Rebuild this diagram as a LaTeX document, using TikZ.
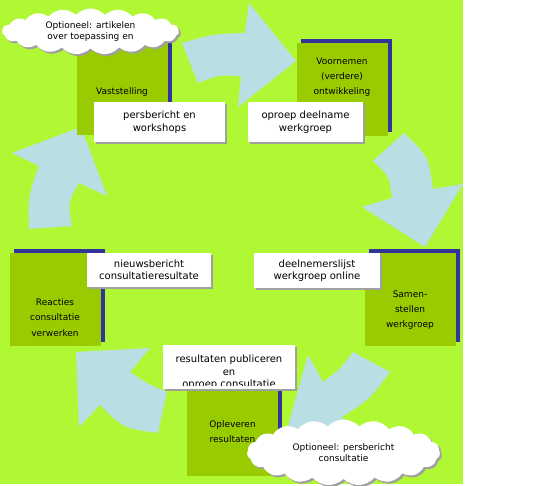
\documentclass[tikz,border=0pt]{standalone}
\usepackage{fontspec}
\setmainfont{DejaVu Sans}
\usepackage{tikz}
\usetikzlibrary{shapes.symbols,shadows,calc,positioning}
\definecolor{bggreen}{RGB}{176,248,52}
\definecolor{stagegreen}{RGB}{153,204,0}
\definecolor{stageblue}{RGB}{51,51,153}
\definecolor{flowblue}{RGB}{185,223,228}
\definecolor{shadowgray}{RGB}{160,160,160}
\tikzset{
	cycle diagram/.style={x=1pt, y=-1pt},
	stage/.style={
		fill=stagegreen, inner sep=0pt,
		minimum width=91pt, minimum height=93pt,
		general shadow={fill=stageblue, shadow xshift=4pt, shadow yshift=4pt}},
	stage text/.style={font=\fontsize{9}{15.2}\selectfont, align=center, inner sep=0pt},
	note text/.style={font=\fontsize{10}{12.5}\selectfont, align=center, inner sep=0pt},
	note/.style={
		note text, fill=white,
		drop shadow={fill=shadowgray, opacity=1, shadow xshift=2pt, shadow yshift=-2pt}},
	remark/.style={
		cloud, cloud puffs=19, cloud puff arc=95, cloud ignores aspect,
		fill=white, inner sep=0pt, align=center,
		font=\fontsize{9}{11.5}\selectfont,
		drop shadow={fill=shadowgray, opacity=1, shadow xshift=2pt, shadow yshift=-2pt}},
	flow/.style={fill=flowblue}
}

\begin{document}
\begin{tikzpicture}[cycle diagram]
	\useasboundingbox (0,0) rectangle (552,486);
	\fill[bggreen] (0,0) rectangle (463,483.5);
	% flow arrows between the stages
	\fill[flow] (182,43) .. controls (213,34) .. (245,33) -- (249,3) -- (296,61)
		-- (238,107) -- (241,76) .. controls (219,75) .. (198,83) -- cycle;
	\fill[flow] (404,133) -- (373,161) .. controls (389.4,176.5) .. (392,198) -- (362,207)
		-- (425,247) -- (463,184) -- (433,189) .. controls (428.5,156.5) .. (404,133) -- cycle;
	\fill[flow] (353,352) .. controls (340,369.3) .. (323,382) -- (308,355) -- (288,426)
		-- (358,446) -- (342,417) .. controls (370,399) .. (390,372) -- cycle;
	\fill[flow] (76,352) -- (150,348) -- (130,372) .. controls (147.5,383.7) .. (167,392)
		-- (158,433) .. controls (123.5,428.3) .. (100,405) -- (79,427) -- cycle;
	\fill[flow] (81,127) -- (107,196) -- (79,183) .. controls (67.8,202.5) .. (72,226)
		-- (29,229) .. controls (28.2,196.1) .. (39,166) -- (12,153) -- cycle;
	% stages
	\node[stage] (S1) at (122,89) {};
	\node[stage] (S2) at (342,89.5) {};
	\node[stage] (S3) at (410,299.5) {};
	\node[stage] (S4) at (55,299.5) {};
	\node[stage] (S5) at (232.5,429.5) {};
	\node[stage text] at ([yshift=-3pt]S1.center) {Vaststelling};
	\node[stage text] at ([yshift=12.5pt]S2.center) {Voornemen\\(verdere)\\ontwikkeling};
	\node[stage text] at ([yshift=-10.5pt]S3.center) {Samen-\\stellen\\werkgroep};
	\node[stage text] at ([yshift=-18pt]S4.center) {Reacties\\consultatie\\verwerken};
	\node[stage text] at ([yshift=-2.5pt]S5.center) {Opleveren\\resultaten};
	% communication notes
	\node[note, minimum width=131pt, minimum height=40pt] (T1) at (159.5,122) {persbericht en\\workshops};
	\node[note, minimum width=115pt, minimum height=40pt] (T2) at (305.5,122) {oproep deelname\\werkgroep};
	\node[note, minimum width=126pt, minimum height=35pt] (T3) at (317,270.5) {deelnemerslijst\\werkgroep online};
	\node[note, minimum width=124pt, minimum height=34pt] (T4) at (149,270) {nieuwsbericht\\consultatieresultate};
	\node[note, minimum width=132pt, minimum height=44pt] (T5) at (229,367) {};
	\begin{scope}
		\clip (T5.north west) rectangle ([yshift=4pt]T5.south east);
		\node[note text] at ([yshift=-5.5pt]T5.center)
			{resultaten publiceren\\en\\oproep consultatie};
	\end{scope}
	% optional remarks
	\node[remark, minimum width=177pt, minimum height=46pt] (C1) at (90.5,31.5) {Optioneel: artikelen\\over toepassing en};
	\node[remark, minimum width=193pt, minimum height=66pt] (C2) at (343.5,452.5) {Optioneel: persbericht\\consultatie};
\end{tikzpicture}
\end{document}
